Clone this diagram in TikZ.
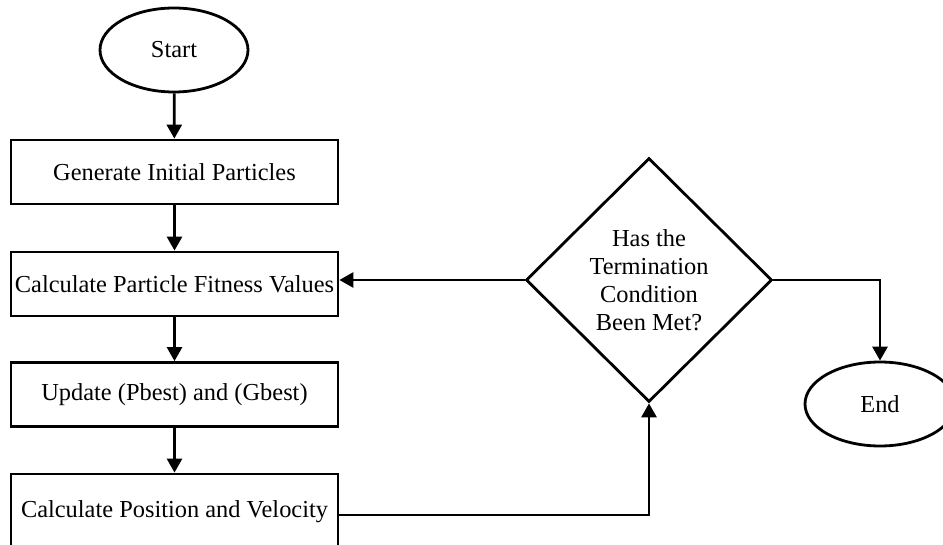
\documentclass[tikz,border=0pt]{standalone}
\usepackage{fontspec}
\setmainfont{Liberation Serif}
\usetikzlibrary{shapes.geometric,arrows.meta}
\tikzset{
  process/.style={draw, line width=1.4pt, inner xsep=1pt, minimum width=163.5pt, minimum height=32pt, font=\fontsize{12.2}{14}\selectfont},
  terminal/.style={draw, ellipse, line width=1.4pt, minimum width=74pt, minimum height=42pt, font=\fontsize{12.2}{14}\selectfont},
  decision/.style={draw, diamond, line width=1.4pt, minimum width=123pt, minimum height=122pt, inner sep=0pt, align=center, font=\fontsize{12.2}{14}\selectfont},
  flow/.style={line width=1.4pt, -{Triangle[length=7pt,width=7.5pt]}}
}
\begin{document}
\begin{tikzpicture}[x=0.5pt, y=-0.5pt]
      \useasboundingbox (0,0) rectangle (943,545);
      % nodes
      \node [terminal] (start) at (174, 50) {Start};
      \node [process] (gen) at (174.5, 172) {Generate Initial Particles};
      \node [process] (fit) at (174.5, 284) {Calculate Particle Fitness Values};
      \node [process] (upd) at (174.5, 394.5) {Update (Pbest) and (Gbest)};
      \node [process, minimum height=38pt] (pos) at (174.5, 512) {Calculate Position and Velocity};
      \node [decision] (cond) at (649, 280) {Has the\\Termination\\Condition\\Been Met?};
      \node [terminal, minimum width=75pt] (end) at (880, 404) {End};
      % connectors
      \draw [flow] (start) -- (gen);
      \draw [flow] (gen) -- (fit);
      \draw [flow] (fit) -- (upd);
      \draw [flow] (upd) -- (pos);
      \draw [flow] ([yshift=-1.5pt]pos.east) -| (cond.south);
      \draw [flow] (cond.west) -- (fit.east |- cond.west);
      \draw [flow] (cond.east) -| (end.north);
    \end{tikzpicture}
\end{document}
